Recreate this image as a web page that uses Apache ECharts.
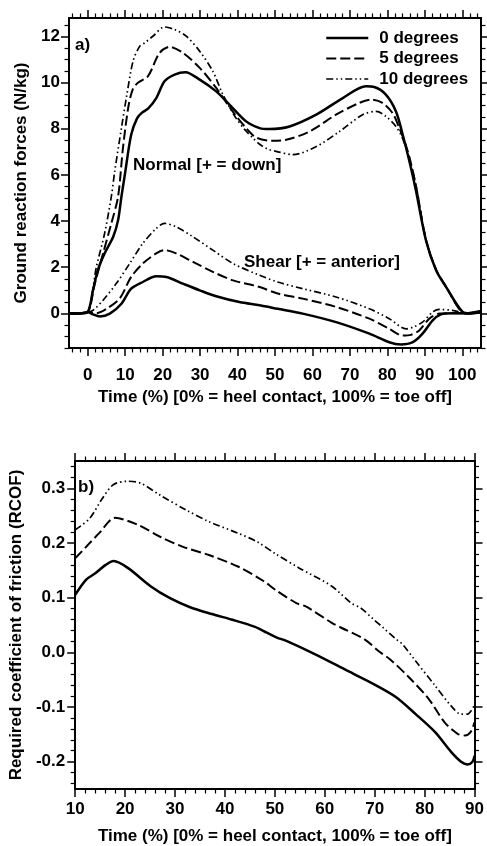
<!DOCTYPE html>
<html><head><meta charset="utf-8">
<script src="https://cdn.jsdelivr.net/npm/echarts@6/dist/echarts.min.js"></script>
<style>html,body{margin:0;padding:0;background:#fff}#c{width:487px;height:846px}</style>
</head><body><div id="c"></div>
<script>
const seriesNames = ['0 degrees', '5 degrees', '10 degrees'];

// ---- (a) Normal force (N/kg) vs time (%) ----
const tNormal0 = [-5,-2,0,1.4,2.7,4.5,6.8,8.1,9,9.9,11.6,13.2,14.5,16.1,18.3,20.5,23.2,26.1,29.9,34.3,37.9,42.3,45.9,48.5,53.9,61,68.1,74.3,76.5,79.6,82.3,84.1,85.9,87.6,90.3,93,95.7,100.1,102,105];
const vNormal0 = [0,0,0.06,1.0,1.87,2.6,3.32,4.04,5.06,6.0,7.74,8.46,8.7,8.87,9.33,10.06,10.35,10.45,10.13,9.62,9.04,8.32,8.03,7.99,8.1,8.61,9.33,9.84,9.81,9.48,8.75,7.74,6.58,5.35,3.17,1.87,1.14,0.06,0.0,0.05];
const tNormal5 = [-5,-2,0,1.9,4.1,6.3,8.1,9.4,10.8,12,13.4,16.1,19.2,21.9,25.4,29.9,34.3,38.7,42.3,45,49.4,53,59.2,66.3,72.5,75.6,78.7,81.4,83.2,84.5,86,87.8,90.3,93,95.7,100,102,105];
const vNormal5 = [0,0,0.05,1.29,2.6,3.9,5.06,7.16,8.9,9.7,9.99,10.28,11.29,11.55,11.29,10.64,9.77,8.75,8.03,7.62,7.48,7.52,7.88,8.61,9.12,9.26,9.12,8.68,8.03,7.5,6.7,5.4,3.2,1.9,1.15,0.05,0.0,0.05];
const tNormal10 = [-5,-2,0,2.3,4.5,6.3,7.2,9,10.3,12.1,13.9,15.2,17.4,20.5,23.2,26.3,29.9,33.4,36.1,39.6,42,44.1,46,48,50.3,54.8,61,67.2,73.4,77,79.6,82.3,84,86,87.8,90.3,93,95.7,100,102,105];
const vNormal10 = [0,0,0.05,2.0,3.46,5.06,6.14,8.03,9.33,10.93,11.58,11.72,12.01,12.41,12.3,12.01,11.36,10.49,9.48,8.46,7.95,7.6,7.32,7.12,7.02,6.88,7.23,7.88,8.61,8.75,8.54,8.1,7.6,6.65,5.4,3.2,1.9,1.15,0.05,0.0,0.05];

// ---- (a) Shear force (N/kg) vs time (%) ----
const tShear0 = [-5,-2,0,1.4,3.2,5.9,9,11.6,14.7,18.3,21,25.4,29.9,34.3,40.5,45.9,50.7,57.4,66.3,75.2,80.5,83.6,86.8,89.4,92.1,94.3,97.4,100.8,105];
const vShear0 = [0,0,0.06,-0.04,-0.13,-0.01,0.42,1.07,1.36,1.61,1.58,1.29,1.0,0.74,0.49,0.35,0.2,-0.01,-0.38,-0.88,-1.25,-1.35,-1.25,-0.88,-0.3,-0.04,0.01,0,0.1];
const tShear5 = [-5,-2,0,2.3,5,8.5,11.6,14.7,18.3,20.5,23.6,28.1,33.4,38.8,45.9,50.7,57.4,66.3,75.2,80.5,84.1,86.3,88.5,91.2,93.9,97.4,101,105];
const vShear5 = [0,0,0.05,0.01,0.2,0.64,1.58,2.16,2.6,2.74,2.6,2.23,1.8,1.43,1.14,0.86,0.64,0.28,-0.23,-0.67,-0.96,-0.93,-0.74,-0.23,-0.01,0.01,0.01,0.05];
const tShear10 = [-5,-2,0,1.4,4.1,7.6,11.2,14.7,18.3,20.5,23.6,28.1,33.4,38.8,45.9,50.7,57.4,66.3,75.2,80.5,85,86.8,89.4,92.1,93.9,97.4,101,105];
const vShear10 = [0,0,0.05,0.13,0.57,1.29,2.16,3.03,3.68,3.9,3.75,3.32,2.74,2.16,1.65,1.36,1.07,0.71,0.2,-0.23,-0.67,-0.6,-0.38,0.06,0.17,0.13,0.01,0.05];

// ---- (b) RCOF vs time (%) ----
const tRcof0 = [10,12.2,14.1,16.1,17.7,20.6,25.1,29,32.9,37.4,41.3,45.9,48.4,50.4,52.3,58.2,64.6,69.8,74.3,78.2,82.1,85.3,87.3,88.6,89.6,90];
const vRcof0 = [0.105,0.133,0.145,0.16,0.167,0.154,0.121,0.099,0.083,0.07,0.06,0.047,0.036,0.027,0.021,-0.004,-0.034,-0.058,-0.082,-0.113,-0.146,-0.182,-0.2,-0.205,-0.2,-0.189];
const tRcof5 = [10,12.5,14.8,18,22.6,27.1,31.6,36.8,42.6,47.8,50,54.3,56.2,61.4,63.3,67.9,71.1,73.1,76.9,80.8,84,86.6,88.1,89.2,90];
const vRcof5 = [0.172,0.196,0.218,0.246,0.233,0.211,0.193,0.178,0.157,0.13,0.115,0.09,0.084,0.054,0.045,0.024,0.0,-0.013,-0.046,-0.085,-0.128,-0.149,-0.152,-0.146,-0.128];
const tRcof10 = [10,12.9,15.4,17.7,20.6,23.2,27.1,32.3,36.8,42.6,46.5,50,54.9,61.4,65.3,67.2,69.8,71.7,74.3,75.6,78.2,82.1,85.3,87.3,88.6,89.9];
const vRcof10 = [0.224,0.245,0.281,0.307,0.313,0.309,0.287,0.26,0.239,0.218,0.202,0.181,0.154,0.121,0.09,0.081,0.06,0.045,0.024,0.0145,-0.016,-0.061,-0.098,-0.113,-0.113,-0.098];

// ---- tick labels ----
const xTicksA = [0,10,20,30,40,50,60,70,80,90,100];
const yTicksA = [0,2,4,6,8,10,12];
const xTicksB = [10,20,30,40,50,60,70,80,90];
const yTicksB = [-0.2,-0.1,0,0.1,0.2,0.3];

function minorVals(lo, hi, step, majorStep) {
  const out = [];
  for (let k = Math.ceil(lo / step - 1e-9); k <= Math.floor(hi / step + 1e-9); k++) {
    const v = Math.round(k * step * 1e6) / 1e6;
    const r = v / majorStep;
    if (Math.abs(r - Math.round(r)) > 1e-6) out.push(v);
  }
  return out;
}

const FONT = { fontFamily: 'Liberation Sans, Arial, sans-serif', fontWeight: 'bold', fontSize: 17, color: '#000' };
const CSSFONT = 'bold 17px "Liberation Sans", Arial, sans-serif';
const BLACK = '#000';

function axes(gridIndex, posMain, posOpp, min, max, majors, minors, lab) {
  const base = { type: 'value', gridIndex, min, max, splitLine: { show: false }, silent: true };
  const lineOn = { show: true, onZero: false, lineStyle: { color: BLACK, width: 2 } };
  const lineOff = { show: false, onZero: false };
  const major = { show: true, customValues: majors, length: 8, lineStyle: { color: BLACK, width: 1.5 } };
  const minor = { show: true, customValues: minors, length: 4.5, lineStyle: { color: BLACK, width: 1.2 } };
  const main = Object.assign({}, base, {
    position: posMain, axisLine: lineOn, axisTick: major,
    axisLabel: Object.assign({ show: true, customValues: majors, margin: lab.margin, formatter: lab.formatter }, FONT),
    name: lab.name, nameLocation: 'middle', nameGap: lab.nameGap, nameRotate: lab.nameRotate || 0,
    nameTextStyle: FONT
  });
  return [
    main,
    Object.assign({}, base, { position: posMain, axisLine: lineOff, axisTick: minor, axisLabel: { show: false } }),
    Object.assign({}, base, { position: posOpp, axisLine: lineOn, axisTick: major, axisLabel: { show: false } }),
    Object.assign({}, base, { position: posOpp, axisLine: lineOff, axisTick: minor, axisLabel: { show: false } })
  ];
}

const xAxis = [].concat(
  axes(0, 'bottom', 'top', -5, 105, xTicksA, minorVals(-5, 105, 2, 10),
    { margin: 19, name: 'Time (%) [0% = heel contact, 100% = toe off]', nameGap: 41 }),
  axes(1, 'bottom', 'top', 10, 90, xTicksB, minorVals(10, 90, 2, 10),
    { margin: 12, name: 'Time (%) [0% = heel contact, 100% = toe off]', nameGap: 39 })
);
const yAxis = [].concat(
  axes(0, 'left', 'right', -1.5, 12.8, yTicksA, minorVals(-1.5, 12.8, 0.5, 2),
    { margin: 9, name: 'Ground reaction forces (N/kg)', nameGap: 31, nameRotate: 90 }),
  axes(1, 'left', 'right', -0.25, 0.35, yTicksB, minorVals(-0.25, 0.35, 0.02, 0.1),
    { margin: 10, name: 'Required coefficient of friction (RCOF)', nameGap: 43, nameRotate: 90, formatter: v => Number(v).toFixed(1) })
);

const STYLES = [
  { color: BLACK, width: 2.5, type: 'solid' },
  { color: BLACK, width: 2, type: [10, 4] },
  { color: BLACK, width: 1.7, type: [7, 3, 1.5, 3, 1.5, 3] }
];

function line(si, ts, vs, axisIndex) {
  return {
    type: 'line', name: seriesNames[si], xAxisIndex: axisIndex, yAxisIndex: axisIndex,
    data: ts.map((t, i) => [t, vs[i]]), symbol: 'none', smooth: 0.3,
    lineStyle: STYLES[si], itemStyle: { color: BLACK }, silent: true, clip: true
  };
}

const series = [
  line(0, tNormal0, vNormal0, 0), line(1, tNormal5, vNormal5, 0), line(2, tNormal10, vNormal10, 0),
  line(0, tShear0, vShear0, 0), line(1, tShear5, vShear5, 0), line(2, tShear10, vShear10, 0),
  line(0, tRcof0, vRcof0, 4), line(1, tRcof5, vRcof5, 4), line(2, tRcof10, vRcof10, 4)
];

const chart = echarts.init(document.getElementById('c'), null, { renderer: 'canvas' });
chart.setOption({
  animation: false,
  backgroundColor: '#fff',
  grid: [
    { left: 69, top: 18, width: 412, height: 330 },
    { left: 72, top: 461, width: 412, height: 330 }
  ],
  xAxis, yAxis, series,
  legend: {
    data: seriesNames, orient: 'vertical', left: 325, top: 29.5, padding: 0,
    itemWidth: 42, itemHeight: 14, itemGap: 3.5, selectedMode: false,
    lineStyle: { width: 'inherit' },
    itemStyle: { opacity: 0, borderWidth: 0 },
    textStyle: Object.assign({ padding: [0, 0, 0, 6] }, FONT)
  },
  graphic: [
    { type: 'text', left: 75, top: 37, style: { text: 'a)', fill: BLACK, font: CSSFONT } },
    { type: 'text', left: 133, top: 157, style: { text: 'Normal [+ = down]', fill: BLACK, font: CSSFONT } },
    { type: 'text', left: 244, top: 254, style: { text: 'Shear [+ = anterior]', fill: BLACK, font: CSSFONT } },
    { type: 'text', left: 78, top: 479, style: { text: 'b)', fill: BLACK, font: CSSFONT } }
  ]
});
</script>
</body></html>
